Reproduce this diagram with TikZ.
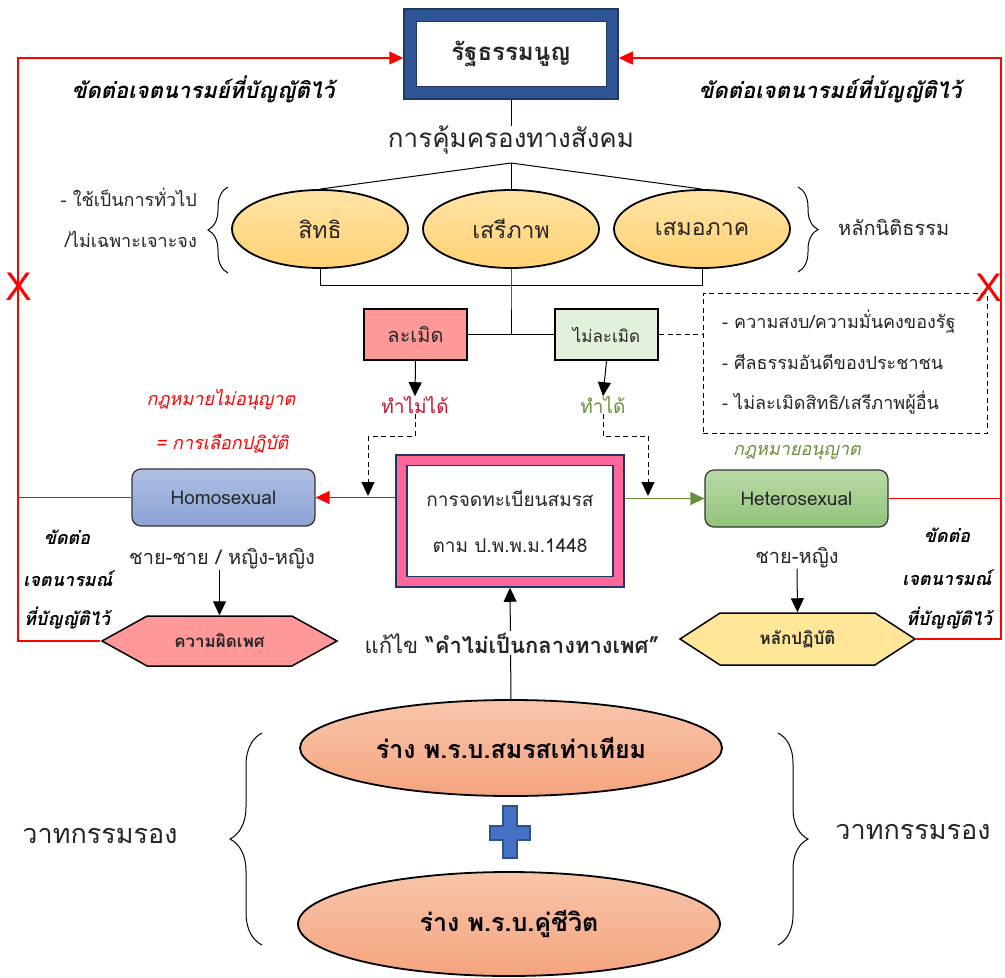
\documentclass[tikz,border=0pt]{standalone}
\usepackage{fontspec}
\setmainfont{Loma}[Script=Thai]
\newfontfamily\xfont{Liberation Sans}
\usetikzlibrary{shapes.geometric,shapes.symbols,arrows.meta,decorations.pathreplacing}
\definecolor{navyc}{HTML}{1F3864}
\definecolor{bandc}{HTML}{2F5597}
\definecolor{pinkc}{HTML}{FF6699}
\definecolor{txtc}{HTML}{262626}
\definecolor{ellt}{HTML}{FFE3A6}
\definecolor{ellb}{HTML}{FFD273}
\definecolor{violc}{HTML}{FF9999}
\definecolor{nviolc}{HTML}{E2EFDA}
\definecolor{redt}{HTML}{C8102E}
\definecolor{redl}{HTML}{FF0000}
\definecolor{greent}{HTML}{6B8E3D}
\definecolor{homot}{HTML}{AFC0E5}
\definecolor{homob}{HTML}{8CA2D6}
\definecolor{hett}{HTML}{BADAA8}
\definecolor{hetb}{HTML}{92C37B}
\definecolor{hexy}{HTML}{FFE699}
\definecolor{peacht}{HTML}{F8C5AB}
\definecolor{peachb}{HTML}{F4A47E}
\definecolor{plusc}{HTML}{4472C4}
\definecolor{plusd}{HTML}{2F528F}
\begin{document}
\begin{tikzpicture}[x=1pt,y=-1pt,
  txt/.style={inner sep=0pt, text=txtc},
  ell/.style={ellipse, draw=black, line width=1.8pt, top color=ellt, bottom color=ellb, minimum width=176pt, minimum height=78pt, inner sep=0pt, font=\fontsize{23}{28}\selectfont, text=txtc},
  sqbox/.style={draw=black, line width=2pt, minimum width=103pt, minimum height=51pt, inner sep=0pt, text=txtc},
  rbox/.style={draw=black!80, line width=1.2pt, rounded corners=9pt, minimum width=183pt, minimum height=57pt, inner sep=0pt, text=txtc, font=\fontsize{19}{22}\selectfont},
  hexa/.style={signal, signal to=west and east, draw=black, line width=1.5pt, minimum width=235pt, minimum height=50pt, inner sep=0pt, font=\bfseries\fontsize{17}{20}\selectfont, text=txtc},
  peach/.style={ellipse, draw=black, line width=1.8pt, top color=peacht, bottom color=peachb, minimum width=422pt, inner sep=0pt, font=\bfseries\fontsize{25}{30}\selectfont, text=black},
  blkarrow/.style={line width=1pt, -{Triangle[width=13pt,length=14pt]}},
  redline/.style={redl, line width=1.2pt},
  redarrow/.style={redl, line width=1.2pt, -{Triangle[width=13pt,length=14pt]}},
  thin/.style={line width=1pt},
  dsh/.style={line width=1pt, dash pattern=on 5pt off 3.5pt},
  bi/.style={inner sep=0pt, font=\bfseries\itshape\fontsize{18}{22}\selectfont, text=black},
  brc/.style={decorate, line width=1pt}
]
\useasboundingbox (0,0) rectangle (1005,978);
\fill[white] (0,0) rectangle (1005,978);

% top constitution box
\node[draw=navyc, line width=1.5pt, fill=bandc, minimum width=214pt, minimum height=90pt, inner sep=0pt] (const) at (511,54) {};
\node[draw=navyc, line width=1pt, fill=white, minimum width=190pt, minimum height=65pt, inner sep=0pt, font=\bfseries\fontsize{24}{30}\selectfont, text=txtc] (constin) at (511,54) {รัฐธรรมนูญ};

\node[txt, font=\fontsize{26}{32}\selectfont] (prot) at (511,140) {การคุ้มครองทางสังคม};
\draw[thin] (const.south) -- (prot.north);

% ellipses
\node[ell] (e1) at (320,229) {สิทธิ};
\node[ell] (e2) at (511,229) {เสรีภาพ};
\node[ell] (e3) at (702,229) {เสมอภาค};
\coordinate (apex) at (511,163);
\draw[thin] (e1.north) -- (apex) -- (e3.north);
\draw[thin] (apex) -- (e2.north);

% braces
\draw[brc, decoration={brace, amplitude=20pt}] (228,273) -- (228,187);
\draw[brc, decoration={brace, amplitude=20pt}] (798,187) -- (798,272);
\node[txt, anchor=east, font=\fontsize{18}{24}\selectfont] (g1) at (197,197) {- ใช้เป็นการทั่วไป};
\node[txt, anchor=east, font=\fontsize{18}{24}\selectfont] (g2) at (197,239) {/ไม่เฉพาะเจาะจง};
\node[txt, anchor=west, font=\fontsize{20}{24}\selectfont] (rol) at (838,228) {หลักนิติธรรม};

% violate / not violate
\coordinate (bus) at (511,285);
\node[sqbox, fill=violc, font=\fontsize{20}{24}\selectfont] (viol) at (415.5,334.5) {ละเมิด};
\node[sqbox, fill=nviolc, font=\fontsize{17}{20}\selectfont] (nviol) at (606.5,334.5) {ไม่ละเมิด};
\draw[thin] (e1.south) -- (e1.south |- bus) -- (e3.south |- bus) -- (e3.south);
\draw[thin] (e2.south) -- (bus) -- (bus |- viol.east);
\draw[thin] (viol.east) -- (nviol.west);

\node[inner sep=0pt, text=redt, font=\fontsize{19}{26}\selectfont] (cannot) at (415,405) {ทำไม่ได้};
\node[inner sep=0pt, text=greent, font=\fontsize{19}{26}\selectfont] (can) at (603,405) {ทำได้};
\draw[blkarrow] (viol.south) -- (cannot.north);
\draw[blkarrow] (nviol.south) -- (can.north);

% conditions box
\node[draw=black, dsh, minimum width=284pt, minimum height=140pt, inner sep=0pt] (cond) at (845,363) {};
\draw[dsh] (nviol.east) -- (nviol.east -| cond.west);
\node[txt, anchor=west, font=\fontsize{18}{20}\selectfont] (c1) at (722,322) {- ความสงบ/ความมั่นคงของรัฐ};
\node[txt, anchor=west, font=\fontsize{18}{20}\selectfont] (c2) at (722,362) {- ศีลธรรมอันดีของประชาชน};
\node[txt, anchor=west, font=\fontsize{18}{20}\selectfont] (c3) at (722,403) {- ไม่ละเมิดสิทธิ/เสรีภาพผู้อื่น};

% registration box
\node[draw=navyc, line width=1.5pt, fill=pinkc, minimum width=228pt, minimum height=132pt, inner sep=0pt] (reg) at (510,521) {};
\node[draw=navyc, line width=1.5pt, fill=white, minimum width=206pt, minimum height=111pt, inner sep=0pt, align=center, font=\fontsize{19}{46}\selectfont, text=txtc] (regin) at (510,521) {การจดทะเบียนสมรส\\ตาม ป.พ.พ.ม.1448};

% homo / hetero
\node[rbox, top color=homot, bottom color=homob] (homo) at (223.5,497.5) {Homosexual};
\node[rbox, top color=hett, bottom color=hetb] (hetero) at (796.5,498.5) {Heterosexual};
\draw[redarrow] (reg.west |- homo.east) -- (homo.east);
\draw[greent, line width=1.2pt, -{Triangle[width=13pt,length=14pt]}] (reg.east |- hetero.west) -- (hetero.west);

\coordinate (dl) at (368,436);
\coordinate (dlt) at (368,496);
\coordinate (dr) at (648,436);
\coordinate (drt) at (648,496);
\draw[dsh] (cannot.south) |- (dl);
\draw[dsh, -{Triangle[width=13pt,length=14pt]}] (dl) -- (dlt);
\draw[dsh] (can.south) |- (dr);
\draw[dsh, -{Triangle[width=13pt,length=14pt]}] (dr) -- (drt);

\node[inner sep=0pt, text=redl, font=\itshape\fontsize{18}{24}\selectfont] (law1) at (221,400) {กฎหมายไม่อนุญาต};
\node[inner sep=0pt, text=redl, font=\itshape\fontsize{18}{24}\selectfont] (law2) at (222,444) {= การเลือกปฏิบัติ};
\node[inner sep=0pt, text=greent, font=\itshape\fontsize{18}{24}\selectfont] (law3) at (797,453) {กฎหมายอนุญาต};

\node[txt, font=\fontsize{20}{24}\selectfont] (mm) at (222,559) {ชาย-ชาย / หญิง-หญิง};
\node[txt, font=\fontsize{20}{24}\selectfont] (mf) at (797,558) {ชาย-หญิง};
\node[hexa, fill=violc, signal pointer angle=58] (hexL) at (219.5,641) {ความผิดเพศ};
\node[hexa, fill=hexy, signal pointer angle=66, minimum height=52pt] (hexR) at (797.5,639) {หลักปฏิบัติ};
\draw[blkarrow] (mm.south -| hexL.north) -- (hexL.north);
\draw[blkarrow] (mf.south) -- (hexR.north);

% red feedback loops
\coordinate (lt) at (18,58);
\coordinate (rt) at (1001,58);
\draw[redarrow] (hexL.west) -| (lt) -- (const.west |- lt);
\draw[redline] (homo.west) -- (homo.west -| lt);
\draw[redarrow] (hexR.east) -| (rt) -- (const.east |- rt);
\draw[redline] (hetero.east) -- (hetero.east -| rt);
\node[inner sep=0pt, text=redl, font=\xfont\fontsize{40}{40}\selectfont] (x1) at (19,287) {X};
\node[inner sep=0pt, text=redl, font=\xfont\fontsize{40}{40}\selectfont] (x2) at (989,288) {X};

\node[bi, font=\bfseries\itshape\fontsize{22}{24}\selectfont] (k1) at (203,89) {ขัดต่อเจตนารมย์ที่บัญญัติไว้};
\node[bi, font=\bfseries\itshape\fontsize{22}{24}\selectfont] (k2) at (830,89) {ขัดต่อเจตนารมย์ที่บัญญัติไว้};
\node[bi] (k3) at (67,537) {ขัดต่อ};
\node[bi] (k4) at (68,579) {เจตนารมณ์};
\node[bi] (k5) at (67,618) {ที่บัญญัติไว้};
\node[bi] (k6) at (947,535) {ขัดต่อ};
\node[bi] (k7) at (947,578) {เจตนารมณ์};
\node[bi] (k8) at (949,618) {ที่บัญญัติไว้};

% bottom drafts
\node[peach, minimum height=96pt] (e4) at (511,748) {ร่าง พ.ร.บ.สมรสเท่าเทียม};
\node[peach, minimum height=104pt] (e5) at (509,924) {ร่าง พ.ร.บ.คู่ชีวิต};
\draw[blkarrow] (e4.north) -- (reg.south);
\node[fill=white, inner sep=2pt, text=txtc, font=\fontsize{22}{26}\selectfont] (fix) at (512,643) {แก้ไข \textbf{“คำไม่เป็นกลางทางเพศ”}};

\fill[plusc, draw=plusd, line width=1.2pt] (503,806) -- (517,806) -- (517,826) -- (530,826) -- (530,840) -- (517,840) -- (517,858) -- (503,858) -- (503,840) -- (490,840) -- (490,826) -- (503,826) -- cycle;

\draw[brc, decoration={brace, amplitude=32pt}] (262,945) -- (262,733);
\draw[brc, decoration={brace, amplitude=30pt}] (778,733) -- (778,945);
\node[txt, font=\fontsize{27}{32}\selectfont] (v1) at (100,836) {วาทกรรมรอง};
\node[txt, font=\fontsize{27}{32}\selectfont] (v2) at (913,832) {วาทกรรมรอง};
\end{tikzpicture}
\end{document}
